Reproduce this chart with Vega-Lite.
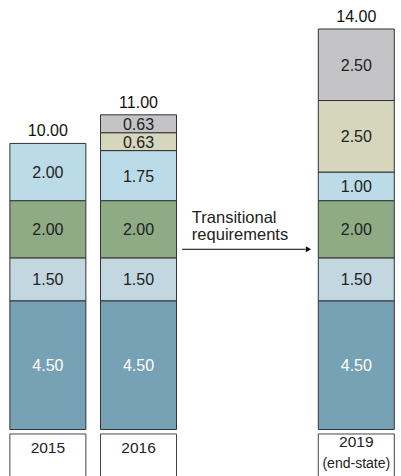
{
  "$schema": "https://vega.github.io/schema/vega-lite/v6.json",
  "width": 401,
  "height": 476,
  "autosize": {"type": "fit", "contains": "padding"},
  "padding": 0,
  "config": {"view": {"stroke": null}, "font": "Liberation Sans"},
  "datasets": {
    "segments": [
      {"year": 2015, "rank": 1, "category": "Base", "value": 4.5},
      {"year": 2015, "rank": 2, "category": "Layer 2", "value": 1.5},
      {"year": 2015, "rank": 3, "category": "Layer 3", "value": 2.0},
      {"year": 2015, "rank": 4, "category": "Layer 4", "value": 2.0},
      {"year": 2016, "rank": 1, "category": "Base", "value": 4.5},
      {"year": 2016, "rank": 2, "category": "Layer 2", "value": 1.5},
      {"year": 2016, "rank": 3, "category": "Layer 3", "value": 2.0},
      {"year": 2016, "rank": 4, "category": "Layer 4", "value": 1.75},
      {"year": 2016, "rank": 5, "category": "Layer 5", "value": 0.625},
      {"year": 2016, "rank": 6, "category": "Layer 6", "value": 0.625},
      {"year": 2019, "rank": 1, "category": "Base", "value": 4.5},
      {"year": 2019, "rank": 2, "category": "Layer 2", "value": 1.5},
      {"year": 2019, "rank": 3, "category": "Layer 3", "value": 2.0},
      {"year": 2019, "rank": 4, "category": "Layer 4", "value": 1.0},
      {"year": 2019, "rank": 5, "category": "Layer 5", "value": 2.5},
      {"year": 2019, "rank": 6, "category": "Layer 6", "value": 2.5}
    ],
    "years": [
      {"year": 2015, "title": "2015", "note": ""},
      {"year": 2016, "title": "2016", "note": ""},
      {"year": 2019, "title": "2019", "note": "(end-state)"}
    ],
    "annotation": [
      {"from": 2016, "to": 2019, "text": "Transitional requirements"}
    ]
  },
  "layer": [
    {
      "data": {"name": "segments"},
      "mark": {"type": "bar", "size": 76, "stroke": "#333333", "strokeWidth": 1},
      "encoding": {
        "x": {
          "field": "year",
          "type": "quantitative",
          "scale": {"domain": [2015, 2016, 2019], "range": [42, 138.5, 361], "zero": false, "nice": false},
          "axis": null
        },
        "y": {
          "field": "value",
          "type": "quantitative",
          "stack": "zero",
          "scale": {"domain": [-1.626, 15.014], "zero": false, "nice": false},
          "axis": null
        },
        "color": {
          "field": "category",
          "type": "nominal",
          "scale": {
            "domain": ["Base", "Layer 2", "Layer 3", "Layer 4", "Layer 5", "Layer 6"],
            "range": ["#77a1b5", "#c3d7e1", "#8fab86", "#badbe7", "#d5d6bb", "#c4c4c6"]
          },
          "legend": null
        },
        "order": {"field": "rank", "type": "quantitative", "sort": "ascending"}
      }
    },
    {
      "data": {"name": "segments"},
      "transform": [
        {"stack": "value", "groupby": ["year"], "sort": [{"field": "rank", "order": "ascending"}], "as": ["v0", "v1"]},
        {"calculate": "(datum.v0 + datum.v1) / 2", "as": "mid"}
      ],
      "mark": {"type": "text", "fontSize": 16, "baseline": "middle", "dy": 1},
      "encoding": {
        "x": {"field": "year", "type": "quantitative"},
        "y": {"field": "mid", "type": "quantitative"},
        "text": {"field": "value", "type": "quantitative", "format": ".2f"},
        "color": {"condition": {"test": "datum.rank == 1", "value": "#ffffff"}, "value": "#222222"}
      }
    },
    {
      "data": {"name": "segments"},
      "transform": [{"aggregate": [{"op": "sum", "field": "value", "as": "total"}], "groupby": ["year"]}],
      "mark": {"type": "text", "fontSize": 16, "baseline": "alphabetic", "dy": -7, "color": "#111111"},
      "encoding": {
        "x": {"field": "year", "type": "quantitative"},
        "y": {"field": "total", "type": "quantitative"},
        "text": {"field": "total", "type": "quantitative", "format": ".2f"}
      }
    },
    {
      "data": {"name": "years"},
      "mark": {"type": "bar", "size": 76, "fill": "#ffffff", "stroke": "#444444", "strokeWidth": 1, "clip": true},
      "encoding": {
        "x": {"field": "year", "type": "quantitative"},
        "y": {"datum": -0.157, "type": "quantitative"},
        "y2": {"datum": -2.5}
      }
    },
    {
      "data": {"name": "years"},
      "transform": [{"filter": "datum.note == ''"}],
      "mark": {"type": "text", "fontSize": 15.5, "baseline": "middle", "color": "#222222"},
      "encoding": {
        "x": {"field": "year", "type": "quantitative"},
        "y": {"datum": -0.64, "type": "quantitative"},
        "text": {"field": "title"}
      }
    },
    {
      "data": {"name": "years"},
      "transform": [{"filter": "datum.note != ''"}],
      "mark": {"type": "text", "fontSize": 15.5, "baseline": "middle", "color": "#222222"},
      "encoding": {
        "x": {"field": "year", "type": "quantitative"},
        "y": {"datum": -0.43, "type": "quantitative"},
        "text": {"field": "title"}
      }
    },
    {
      "data": {"name": "years"},
      "transform": [{"filter": "datum.note != ''"}],
      "mark": {"type": "text", "fontSize": 14, "baseline": "middle", "color": "#222222"},
      "encoding": {
        "x": {"field": "year", "type": "quantitative"},
        "y": {"datum": -1.19, "type": "quantitative"},
        "text": {"field": "note"}
      }
    },
    {
      "data": {"name": "annotation"},
      "mark": {"type": "rule", "color": "#000000", "strokeWidth": 1},
      "encoding": {
        "x": {"datum": 2016.6, "type": "quantitative"},
        "x2": {"datum": 2018.3},
        "y": {"datum": 6.3, "type": "quantitative"}
      }
    },
    {
      "data": {"name": "annotation"},
      "mark": {"type": "point", "shape": "triangle-right", "filled": true, "color": "#000000", "size": 36, "opacity": 1},
      "encoding": {
        "x": {"datum": 2018.34, "type": "quantitative"},
        "y": {"datum": 6.3, "type": "quantitative"}
      }
    },
    {
      "data": {"name": "annotation"},
      "mark": {"type": "text", "fontSize": 16.5, "align": "left", "baseline": "alphabetic", "lineHeight": 17, "color": "#222222", "lineBreak": " "},
      "encoding": {
        "x": {"datum": 2016.735, "type": "quantitative"},
        "y": {"datum": 7.22, "type": "quantitative"},
        "text": {"field": "text"}
      }
    }
  ]
}
